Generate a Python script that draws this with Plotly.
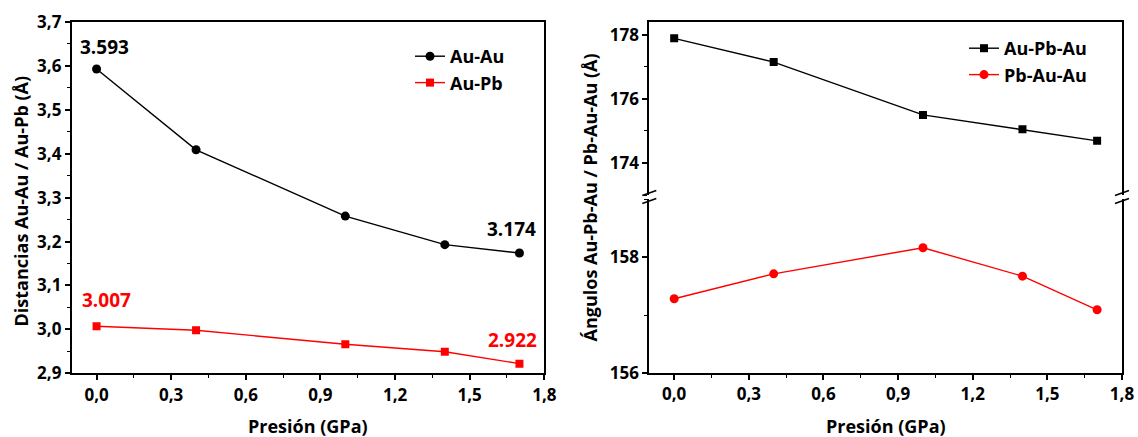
import plotly.graph_objects as go

# Pressure points (GPa)
presion = [0.0, 0.4, 1.0, 1.4, 1.7]

# Interatomic distances (Å)
d_au_au = [3.593, 3.409, 3.258, 3.193, 3.174]
d_au_pb = [3.007, 2.998, 2.966, 2.949, 2.922]

# Bond angles (degrees)
ang_au_pb_au = [177.89, 177.15, 175.50, 175.05, 174.69]
ang_pb_au_au = [157.28, 157.71, 158.16, 157.67, 157.09]

W, H = 1138, 437
FONT = "Open Sans"
BLACK = "#000000"
RED = "#ff0000"


def px_x(v):
    return v / W


def px_y(v):
    return (H - v) / H


fig = go.Figure()

# Left panel: distances
fig.add_trace(go.Scatter(
    x=presion, y=d_au_au, name="Au-Au", mode="lines+markers",
    line=dict(color=BLACK, width=1.4),
    marker=dict(symbol="circle", size=9, color=BLACK),
    xaxis="x", yaxis="y", legend="legend",
))
fig.add_trace(go.Scatter(
    x=presion, y=d_au_pb, name="Au-Pb", mode="lines+markers",
    line=dict(color=RED, width=1.4),
    marker=dict(symbol="square", size=8, color=RED),
    xaxis="x", yaxis="y", legend="legend",
))

# Right panel: angles on a broken axis (upper and lower segments)
fig.add_trace(go.Scatter(
    x=presion, y=ang_au_pb_au, name="Au-Pb-Au", mode="lines+markers",
    line=dict(color=BLACK, width=1.4),
    marker=dict(symbol="square", size=8, color=BLACK),
    xaxis="x3", yaxis="y3", legend="legend2",
))
fig.add_trace(go.Scatter(
    x=presion, y=ang_pb_au_au, name="Pb-Au-Au", mode="lines+markers",
    line=dict(color=RED, width=1.4),
    marker=dict(symbol="circle", size=9, color=RED),
    xaxis="x2", yaxis="y2", legend="legend2",
))

tickfont = dict(family=FONT, size=17, color=BLACK, weight="bold")
common_axis = dict(
    showgrid=False, zeroline=False, showline=True, linecolor=BLACK, linewidth=1.8,
    ticks="outside", ticklen=5, tickwidth=1.6, tickcolor=BLACK,
    tickfont=tickfont, automargin=False,
)
minor = dict(ticks="outside", ticklen=3, tickwidth=1.4, tickcolor=BLACK, showgrid=False)

x_dom_l = [px_x(71.7), px_x(544.3)]
x_dom_r = [px_x(649.3), px_x(1122)]

fig.update_layout(
    width=W, height=H,
    margin=dict(l=0, r=0, t=0, b=0),
    paper_bgcolor="white", plot_bgcolor="white",
    separators=",.",
    showlegend=True,
    font=dict(family=FONT, size=17, color=BLACK, weight="bold"),
    xaxis=dict(
        **common_axis, domain=x_dom_l, anchor="y", range=[-0.1, 1.8],
        tick0=0, dtick=0.3, tickformat=".1f", mirror=True,
        minor=dict(**minor, dtick=0.15, tick0=0),
    ),
    yaxis=dict(
        **common_axis, domain=[px_y(373.3), px_y(22)], anchor="x", range=[2.9, 3.7],
        tick0=2.9, dtick=0.1, tickformat=".1f", mirror=True,
        minor=dict(**minor, dtick=0.05, tick0=2.9),
    ),
    xaxis2=dict(
        **common_axis, domain=x_dom_r, anchor="y2", range=[-0.1, 1.8],
        tick0=0, dtick=0.3, tickformat=".1f",
        minor=dict(**minor, dtick=0.15, tick0=0),
    ),
    yaxis2=dict(
        **common_axis, domain=[px_y(373), px_y(199)], anchor="x2", range=[156, 159],
        tickvals=[156, 158], tickformat="d", mirror=True,
        minor=dict(**minor, dtick=1, tick0=156),
    ),
    xaxis3=dict(
        showgrid=False, zeroline=False, showline=True, linecolor=BLACK, linewidth=1.8,
        domain=x_dom_r, anchor="y3", range=[-0.1, 1.8], side="top",
        showticklabels=False, ticks="", matches="x2",
    ),
    yaxis3=dict(
        **common_axis, domain=[px_y(195), px_y(22)], anchor="x3", range=[173, 178.4],
        tickvals=[174, 176, 178], tickformat="d", mirror=True,
        minor=dict(**minor, dtick=1, tick0=173),
    ),
    legend=dict(
        x=px_x(410), y=px_y(38), xanchor="left", yanchor="top",
        bgcolor="rgba(0,0,0,0)", borderwidth=0,
        font=dict(family=FONT, size=18, color=BLACK, weight="bold"),
        tracegroupgap=0,
    ),
    legend2=dict(
        x=px_x(964), y=px_y(30), xanchor="left", yanchor="top",
        bgcolor="rgba(0,0,0,0)", borderwidth=0,
        font=dict(family=FONT, size=18, color=BLACK, weight="bold"),
        tracegroupgap=0,
    ),
)

annotations = []

# Value labels at the first and last pressure points
label_font = dict(family=FONT, size=19, weight="bold")
for series, color, offs in [
    (d_au_au, BLACK, [(8, 22), (-8, 24)]),
    (d_au_pb, RED, [(10, 26), (-7, 24)]),
]:
    for idx, (dx, dy) in zip([0, -1], offs):
        annotations.append(dict(
            x=presion[idx], y=series[idx], xref="x", yref="y",
            text=f"{series[idx]:.3f}", showarrow=False,
            xshift=dx, yshift=dy, font=dict(**label_font, color=color),
        ))

# Axis titles
title_font = dict(family=FONT, size=18, color=BLACK, weight="bold")
annotations += [
    dict(x=0.5, y=px_y(426), xref="x domain", yref="paper", text="Presión (GPa)",
         showarrow=False, font=title_font, xanchor="center", yanchor="middle"),
    dict(x=0.5, y=px_y(426), xref="x2 domain", yref="paper", text="Presión (GPa)",
         showarrow=False, font=title_font, xanchor="center", yanchor="middle"),
    dict(x=px_x(20.5), y=px_y(201), xref="paper", yref="paper",
         text="Distancias Au-Au / Au-Pb (Å)", textangle=-90,
         showarrow=False, font=title_font, xanchor="center", yanchor="middle"),
    dict(x=px_x(589.5), y=px_y(198), xref="paper", yref="paper",
         text="Ángulos Au-Pb-Au / Pb-Au-Au (Å)", textangle=-90,
         showarrow=False, font=title_font, xanchor="center", yanchor="middle"),
]
fig.update_layout(annotations=annotations)

# Axis-break marks on both sides of the angle panel
shapes = []
for xc in (649.3, 1122):
    for yc in (193, 201):
        shapes.append(dict(
            type="line", xref="paper", yref="paper",
            x0=px_x(xc - 7), y0=px_y(yc + 2.5), x1=px_x(xc + 7), y1=px_y(yc - 2.5),
            line=dict(color=BLACK, width=1.6),
        ))
fig.update_layout(shapes=shapes)

fig.write_html("out.html")
